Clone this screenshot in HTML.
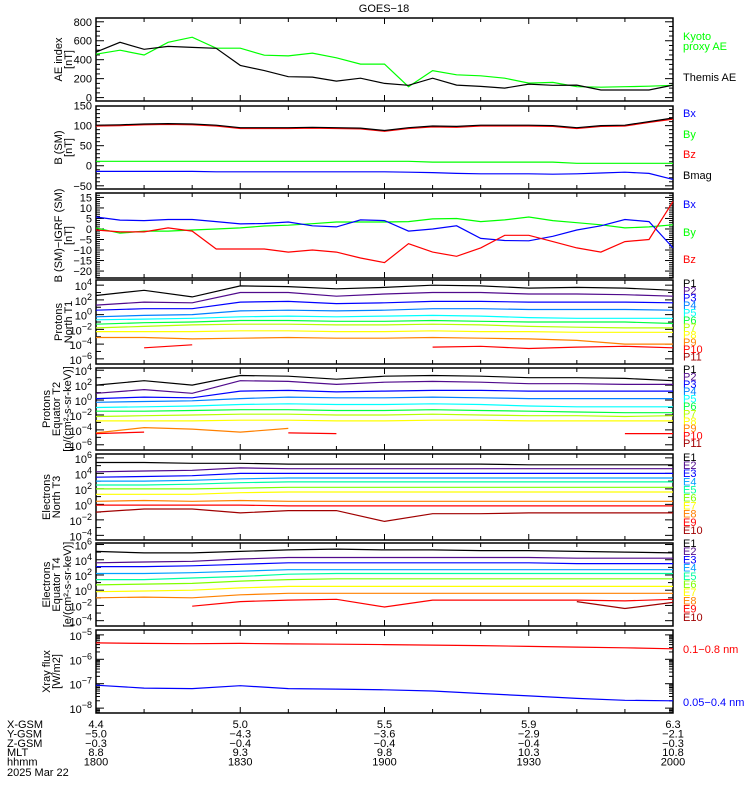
<!DOCTYPE html>
<html><head><meta charset="utf-8"><style>
body{margin:0;background:#fff;}
svg{display:block;font-family:"Liberation Sans",sans-serif;}
text{font-size:11px;}
</style></head><body>
<svg id="c" width="750" height="800" viewBox="0 0 750 800">
<text x="384" y="12" text-anchor="middle" font-size="12">GOES−18</text>
</svg>
<script>
// ---- data (x grid: minutes from 18:00) ----
const t25 = [0,5,10,15,20,25,30,35,40,45,50,55,60,65,70,75,80,85,90,95,100,105,110,115,120];
const t13 = [0,10,20,30,40,50,60,70,80,90,100,110,120];
const timeLabels = ["1800","1830","1900","1930","2000"];
const xgsm = ["4.4","5.0","5.5","5.9","6.3"];
const ygsm = ["−5.0","−4.3","−3.6","−2.9","−2.1"];
const zgsm = ["−0.3","−0.4","−0.4","−0.4","−0.3"];
const mlt = ["8.8","9.3","9.8","10.3","10.8"];

const aeThemis = [480,584,510,540,530,520,340,285,220,216,174,205,150,130,205,132,118,100,142,130,132,80,80,80,132];
const aeKyoto = [458,500,450,584,637,521,521,447,440,470,420,353,353,115,285,240,230,205,153,160,115,110,115,120,130];

const bBmag = [101,102,104,105,104,101,95,95,95,96,95,94,88,95,99,98,101,101,101,100,95,100,101,110,119];
const bBz = [99,100,102,103,102,99,93,93,93,94,93,92,86,93,97,96,99,99,99,98,93,98,99,108,116];
const bBy = [11,11,11,11,11,11,11,11,11,11,11,11,11,11,9,9,9,9,9,9,6,6,6,6,6];
const bBx = [-14,-14,-14,-14,-14,-15,-15,-15,-15,-15,-15,-15,-15,-16,-17,-19,-20,-20,-20,-21,-20,-18,-16,-19,-34];

const dBx = [5.7,4.2,4,4.5,4.5,3.5,2.4,2.6,3.3,1.5,1,4.3,4,-1,0,1.5,-4.5,-5.5,-5.6,-3.5,-0.5,1.5,4.5,3.5,-9];
const dBy = [0.5,-2,-1,-1,-0.5,0,0.5,1.4,1.8,2.5,3.3,3.3,3.3,3.5,4.8,5,3.5,4.3,5.7,4,3,2,0.5,1,2];
const dBz = [-0.5,-1.4,-1.4,0.5,-1,-9.5,-9.5,-9.5,-11,-10,-11,-13.8,-16,-7,-11,-13,-9,-3,-3,-6,-9,-11,-6,-5,13];

// log10 values
const pN = [
 [2.6,3.3,2.4,3.9,3.8,3.5,3.7,4,3.9,3.6,3.7,3.6,3.3],
 [1.3,1.7,1.6,3,3,2.5,2.8,3,3,2.8,2.8,2.7,2.5],
 [0.6,0.8,0.8,1.7,1.8,1.5,1.6,1.8,1.8,1.7,1.7,1.7,1.6],
 [-0.3,-0.1,0,0.5,0.6,0.5,0.6,0.8,0.8,0.7,0.7,0.7,0.6],
 [-0.7,-0.6,-0.5,-0.3,-0.2,-0.3,-0.2,-0.1,-0.2,-0.4,-0.5,-0.5,-0.5],
 [-1.3,-1.1,-1,-0.8,-0.8,-0.9,-0.9,-0.8,-0.9,-1,-1,-1,-1.2],
 [-1.8,-1.6,-1.4,-1.3,-1.3,-1.4,-1.4,-1.3,-1.4,-1.6,-1.7,-1.8,-1.8],
 [-2.3,-2.3,-2.3,-2.2,-2.2,-2.3,-2.3,-2.2,-2.3,-2.3,-2.4,-2.4,-2.4],
 [-3.1,-3.1,-3.3,-3.2,-3.1,-3.2,-3.2,-3.1,-3.2,-3.3,-3.5,-4,-4],
 [null,-4.5,-4.1,null,null,null,null,-4.4,-4.3,-4.6,-4.4,-4.3,-4.5],
 [null,null,null,null,null,null,null,null,null,null,null,null,null]];
const pE = [
 [2,2.6,2,3.3,3.2,2.8,3.2,3.3,3.2,3,3,2.9,2.6],
 [0.9,1.4,0.9,2.6,2.5,2.1,2.4,2.5,2.4,2.2,2.2,2.1,2.1],
 [0.2,0.4,0.3,1.2,1.3,1.1,1.2,1.3,1.3,1.2,1.2,1.2,1.2],
 [-0.3,-0.2,-0.1,0.2,0.4,0.3,0.3,0.4,0.3,0.2,0.2,0.2,0.2],
 [-1,-0.9,-0.8,-0.6,-0.5,-0.6,-0.6,-0.5,-0.6,-0.8,-0.9,-0.9,-0.9],
 [-1.5,-1.5,-1.4,-1.3,-1.3,-1.4,-1.4,-1.3,-1.4,-1.5,-1.6,-1.7,-1.7],
 [-2.2,-2.1,-2,-1.9,-1.9,-2,-2,-1.9,-2,-2.1,-2.1,-2.2,-2.1],
 [-2.8,-2.8,-2.8,-2.7,-2.7,-2.8,-2.8,-2.7,-2.7,-2.8,-2.8,-2.8,-2.8],
 [-4.4,-3.7,-3.9,-4.3,-3.8,null,null,null,null,null,null,null,null],
 [-4.5,-4.3,null,null,-4.4,-4.5,null,null,null,null,null,-4.5,-4.5],
 [null,null,null,null,null,null,null,null,null,null,null,null,null]];
const eN = [
 [5.4,5.4,5.3,5.3,5.2,5.2,5.2,5.2,5.2,5.1,5.1,5.1,5.1],
 [4.2,4.3,4.4,4.7,4.6,4.6,4.6,4.6,4.6,4.6,4.6,4.6,4.6],
 [3.5,3.6,3.7,4,4,4,4,4,4,4,4,4,4],
 [3,3,3.1,3.3,3.4,3.4,3.4,3.4,3.4,3.4,3.4,3.4,3.4],
 [2.5,2.5,2.6,2.8,2.9,2.9,2.9,2.9,2.9,2.9,2.9,2.9,2.9],
 [2,2,2,2.1,2.2,2.2,2.2,2.2,2.2,2.2,2.2,2.2,2.2],
 [1.3,1.3,1.3,1.5,1.6,1.6,1.6,1.6,1.6,1.6,1.6,1.6,1.6],
 [0.4,0.5,0.4,0.5,0.4,0.4,0.4,0.4,0.4,0.4,0.4,0.4,0.4],
 [-0.1,-0.1,-0.1,-0.1,-0.2,-0.2,-0.2,-0.2,-0.2,-0.2,-0.2,-0.2,-0.2],
 [-1,-0.6,-0.6,-1.1,-0.8,-0.8,-2.2,-1.2,-1.2,-1.1,-1.1,-1.1,-1.1]];
const eE = [
 [5.1,4.9,4.9,5.1,5.3,5.4,5.3,5.3,5.2,5.2,5.1,5,4.9],
 [3.6,3.7,3.8,4.1,4.3,4.3,4.3,4.3,4.3,4.3,4.2,4.2,4.2],
 [3.1,3.1,3.2,3.4,3.6,3.6,3.6,3.6,3.6,3.6,3.5,3.5,3.5],
 [2.2,2.2,2.3,2.5,2.7,2.7,2.7,2.7,2.7,2.7,2.7,2.7,2.7],
 [1.4,1.4,1.6,1.8,2.1,2.2,2.2,2.2,2.2,2.2,2.2,2.2,2.2],
 [0.7,0.8,0.9,1.2,1.4,1.5,1.5,1.5,1.5,1.5,1.5,1.5,1.5],
 [-0.2,-0.1,0,0.3,0.5,0.5,0.5,0.5,0.5,0.5,0.5,0.5,0.5],
 [-1,-0.9,-1,-0.6,-0.4,-0.4,-0.4,-0.4,-0.4,-0.4,-0.4,-0.4,-0.4],
 [-2.2,null,-2.1,-1.5,-1.3,-1.2,-2.2,-1.3,-1.3,-1.3,-1.3,-1.4,-1.2],
 [null,null,null,null,null,null,null,null,null,null,-1.5,-2.4,-1.6]];
const xrayLong = [-5.33,-5.35,-5.36,-5.35,-5.37,-5.38,-5.4,-5.42,-5.44,-5.47,-5.5,-5.53,-5.57];
const xrayShort = [-7.06,-7.18,-7.2,-7.08,-7.2,-7.22,-7.25,-7.3,-7.4,-7.5,-7.6,-7.68,-7.7];

const pCol = ["#000","#500a8c","#0000ff","#0080ff","#00ffff","#00ff40","#b4ff00","#ffff00","#ff8000","#ff0000","#a00000"];
const eCol = ["#000","#500a8c","#0000ff","#00a0ff","#00ffa0","#80ff00","#ffff00","#ff8000","#ff0000","#a00000"];

const NS="http://www.w3.org/2000/svg";
const svg=document.getElementById('c');
const X0=96,X1=673;
const xs=t=>X0+t*(X1-X0)/120;
function el(tag,attrs,parent){const e=document.createElementNS(NS,tag);for(const k in attrs)e.setAttribute(k,attrs[k]);(parent||svg).appendChild(e);return e;}

function panel(name,top,bot,vmin,vmax){
  const g=el('g',{});
  
  
  const ys=v=>bot-(v-vmin)*(bot-top)/(vmax-vmin);
  const r=el('rect',{x:X0,y:top,width:X1-X0,height:bot-top,fill:'none',stroke:'#000','stroke-width':1.5},g);
  
  
  for(let m=0;m<=120;m+=10){const x=xs(m),L=(m%30==0)?6:4;
    el('line',{x1:x,x2:x,y1:top,y2:top+L,stroke:'#000'},g);
    el('line',{x1:x,x2:x,y1:bot,y2:bot-L,stroke:'#000'},g);}
  return {g,ys,top,bot};
}
function yTick(p,v,L){const y=p.ys(v);if(y<p.top-0.5||y>p.bot+0.5)return;
  el('line',{x1:X0,x2:X0+L,y1:y,y2:y,stroke:'#000'},p.g);
  el('line',{x1:X1,x2:X1-L,y1:y,y2:y,stroke:'#000'},p.g);}
function yLabel(p,v,txt){const t=el('text',{x:92,y:p.ys(v)+4,'text-anchor':'end','font-size':12},p.g);t.textContent=txt;
  
  }
function yLogLabel(p,v){const t=el('text',{x:92,y:p.ys(v)+5,'text-anchor':'end','font-size':12},p.g);
  
  
  t.appendChild(document.createTextNode('10'));
  const s=el('tspan',{dy:-5,'font-size':9},t);s.textContent=(v<0?'−':'')+Math.abs(v);}
function series(p,times,vals,color,name){
  let d='',pen=false;
  for(let i=0;i<vals.length;i++){if(vals[i]===null){pen=false;continue;}
    d+=(pen?'L':'M')+xs(times[i]).toFixed(1)+' '+p.ys(vals[i]).toFixed(1);pen=true;}
  const pa=el('path',{d:d,fill:'none',stroke:color,'stroke-width':1.2},p.g);
  
  
}
function ylab(p,lines,xs0){const cy=(p.top+p.bot)/2;
  lines.forEach((s,i)=>{const x=xs0[i];const t=el('text',{x:x,y:cy,'text-anchor':'middle','font-size':12,transform:`rotate(-90 ${x} ${cy})`},p.g);t.textContent=s;
    
    });}
function rlab(p,txt,y,color,fs){const t=el('text',{x:683,y:y,fill:color,'font-size':fs||11},p.g);t.textContent=txt;
  
  }

// Panel 1: AE
let p=panel('ae-panel',18,101,-36,840);
for(let v=0;v<=800;v+=50)yTick(p,v,v%200==0?8:4);
for(let v=0;v<=800;v+=200)yLabel(p,v,String(v));
series(p,t25,aeKyoto,'#00ff00','kyoto-ae-line');
series(p,t25,aeThemis,'#000','themis-ae-line');
ylab(p,['AE index','[nT]'],[62,72]);
rlab(p,'Kyoto',40,'#00ff00',12);rlab(p,'proxy AE',50,'#00ff00',12);rlab(p,'Themis AE',81,'#000',12);

// Panel 2: B (SM)
p=panel('b-sm-panel',106,189,-58,149);
for(let v=-50;v<=140;v+=10)yTick(p,v,v%50==0?8:4);
for(let v=-50;v<=150;v+=50)yLabel(p,v,v<0?'−'+(-v):String(v));
series(p,t25,bBy,'#00ff00','by-line');
series(p,t25,bBx,'#0000ff','bx-line');
series(p,t25,bBz,'#ff0000','bz-line');
series(p,t25,bBmag,'#000','bmag-line');
ylab(p,['B (SM)','[nT]'],[62,72]);
rlab(p,'Bx',117,'#0000ff',12);rlab(p,'By',138,'#00ff00',12);rlab(p,'Bz',158,'#ff0000',12);rlab(p,'Bmag',179,'#000',12);

// Panel 3: B-IGRF
p=panel('b-igrf-panel',193,278,-23.3,17.1);
for(let v=-23;v<=17;v+=1)yTick(p,v,v%5==0?8:4);
for(let v=-20;v<=15;v+=5)yLabel(p,v,v<0?'−'+(-v):String(v));
series(p,t25,dBy,'#00ff00','dby-line');
series(p,t25,dBx,'#0000ff','dbx-line');
series(p,t25,dBz,'#ff0000','dbz-line');
ylab(p,['B (SM)−IGRF (SM)','[nT]'],[62,72]);
rlab(p,'Bx',208,'#0000ff',12);rlab(p,'By',236,'#00ff00',12);rlab(p,'Bz',263,'#ff0000',12);

function logPanel(name,top,bot,lmin,lmax,data,cols,prefix,labs,titles,tx,legTop,legStep){
  const q=panel(name,top,bot,lmin,lmax);
  for(let v=Math.ceil(lmin);v<=lmax;v++)yTick(q,v,(v%2==0)?8:5);
  for(let v=Math.ceil(lmin);v<=lmax;v++)if(v%2==0)yLogLabel(q,v);
  data.forEach((s,i)=>series(q,t13,s,cols[i],prefix.toLowerCase()+(i+1)+'-line'));
  ylab(q,titles,tx);
  cols.forEach((c,i)=>rlab(q,prefix+(i+1),legTop+i*legStep,c,10));
  return q;
}
logPanel('protons-north-panel',280,364,-6.7,4.7,pN,pCol,'P',0,['Protons','North T1'],[62,72],287,7.35);
logPanel('protons-equator-panel',368,450,-6.7,4.3,pE,pCol,'P',0,['Protons','Equator T2','[p/(cm²-s-sr-keV)]'],[50,60,71],373,7.4);
logPanel('electrons-north-panel',454,540,-4.6,6.5,eN,eCol,'E',0,['Electrons','North T3'],[50,60],461,8.1);
logPanel('electrons-equator-panel',543,626,-4.7,6.2,eE,eCol,'E',0,['Electrons','Equator T4','[e/(cm²-s-sr-keV)]'],[50,60,71],547,8.2);

// Panel 8: Xray
p=panel('xray-panel',630,713,-8.2,-4.8);
for(let d=-8;d>=-8&&d<-5;d++){}
for(let e=-9;e<=-5;e++){for(let k=1;k<=9;k++){const v=e+Math.log10(k);if(v>=-8.2&&v<=-4.8)yTick(p,v,k==1?8:4);}}
for(let e=-8;e<=-5;e++)yLogLabel(p,e);
series(p,t13,xrayLong,'#ff0000','xray-long-line');
series(p,t13,xrayShort,'#0000ff','xray-short-line');
ylab(p,['Xray flux','[W/m2]'],[50,60]);
rlab(p,'0.1−0.8 nm',653,'#ff0000',12);rlab(p,'0.05−0.4 nm',706,'#0000ff',12);

// bottom annotations
const rows=[['X-GSM',xgsm],['Y-GSM',ygsm],['Z-GSM',zgsm],['MLT',mlt],['hhmm',timeLabels]];
rows.forEach((r,i)=>{const y=728+i*9.4;
  const t=el('text',{x:7,y:y,'font-size':11});t.textContent=r[0];
  
  
  r[1].forEach((s,j)=>{const v=el('text',{x:xs(j*30),y:y,'text-anchor':'middle','font-size':11});v.textContent=s;
    
    });});
const dt=el('text',{x:7,y:776,'font-size':11});dt.textContent='2025 Mar 22';


</script>
</body></html>
